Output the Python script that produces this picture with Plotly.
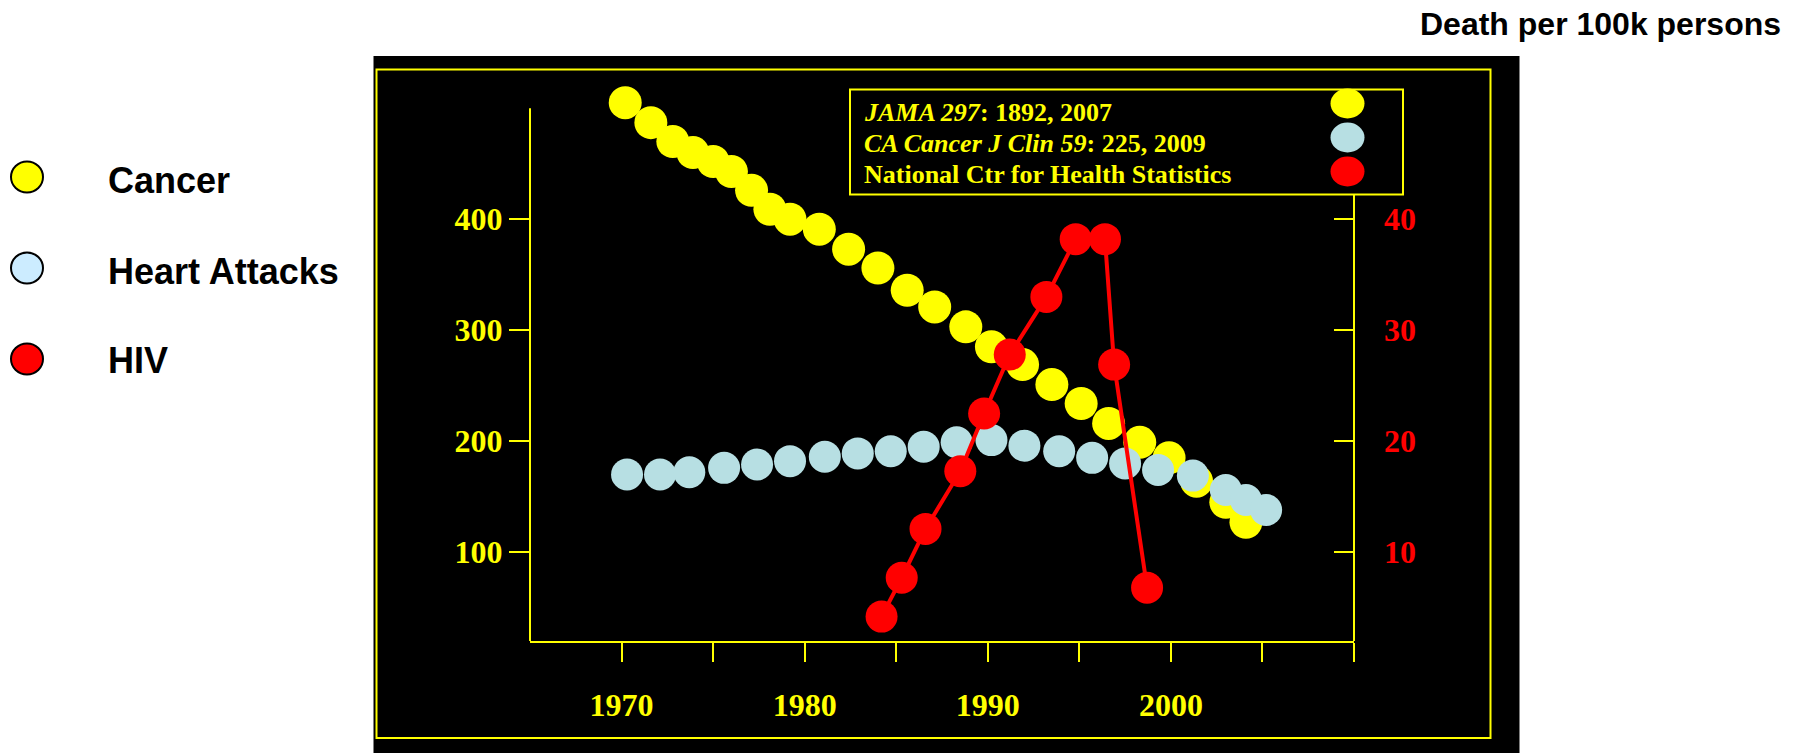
import plotly.graph_objects as go

# ---------------- data ----------------
cancer_years = [1970.2, 1971.6, 1972.8, 1973.9, 1975.0, 1976.0, 1977.1, 1978.1, 1979.2, 1980.8,
                1982.4, 1984.0, 1985.6, 1987.1, 1988.8, 1990.2, 1991.9, 1993.5, 1995.1, 1996.6,
                1998.3, 1999.9, 2001.4, 2003.0, 2004.1]
cancer_vals = [505, 487, 470, 460, 452, 443, 426, 409, 400, 391,
               373, 356, 336, 321, 303, 285, 269, 251, 234, 216,
               199, 185, 164, 145, 127]

heart_years = [1970.3, 1972.1, 1973.7, 1975.6, 1977.4, 1979.2, 1981.1, 1982.9, 1984.7, 1986.5,
               1988.3, 1990.2, 1992.0, 1993.9, 1995.7, 1997.5, 1999.3, 2001.2, 2003.0, 2004.1, 2005.2]
heart_vals = [170, 170, 172, 176, 179, 182, 186, 189, 191, 195,
              199, 201, 196, 191, 185, 180, 174, 169, 156, 147, 138]

hiv_years = [1984.2, 1985.3, 1986.6, 1988.5, 1989.8, 1991.2, 1993.2, 1994.8, 1996.4, 1996.9, 1998.7]
hiv_vals = [4.2, 7.7, 12.1, 17.3, 22.5, 27.8, 33.0, 38.2, 38.2, 26.9, 6.8]

x_tickvals = [1970, 1975, 1980, 1985, 1990, 1995, 2000, 2005, 2010]
x_ticktext = ["1970", "", "1980", "", "1990", "", "2000", "", ""]
y_left_ticks = [100, 200, 300, 400]
y_right_ticks = [10, 20, 30, 40]
y_left_axis_span = [20, 500]
y_right_axis_span = [2, 50]

source_lines = ["<i>JAMA 297</i>: 1892, 2007",
                "<i>CA Cancer J Clin 59</i>: 225, 2009",
                "National Ctr for Health Statistics"]
series_names = ["Cancer", "Heart Attacks", "HIV"]
page_title = "Death per 100k persons"

# ---------------- style ----------------
YELLOW = "#FFFF00"
LBLUE = "#B7DFE3"
RED = "#FF0000"
LEG_BLUE = "#CCECFF"
W, H = 1797, 753
L, R, T, B = 530, 1354, 86, 641
PW, PH = R - L, B - T


def px(x):
    return (x - L) / PW


def py(y):
    return (B - y) / PH


serif = "Liberation Serif"
sans = "Liberation Sans"

fig = go.Figure()
fig.add_trace(go.Scatter(x=cancer_years, y=cancer_vals, mode="markers", name="Cancer",
                         marker=dict(color=YELLOW, size=33, line=dict(width=0)),
                         cliponaxis=False, showlegend=False))
fig.add_trace(go.Scatter(x=heart_years, y=heart_vals, mode="markers", name="Heart Attacks",
                         marker=dict(color=LBLUE, size=32, line=dict(width=0)),
                         cliponaxis=False, showlegend=False))
fig.add_trace(go.Scatter(x=hiv_years, y=hiv_vals, mode="lines+markers", name="HIV", yaxis="y2",
                         line=dict(color=RED, width=4),
                         marker=dict(color=RED, size=32, line=dict(width=0)),
                         cliponaxis=False, showlegend=False))

shapes = []
# black panel
shapes.append(dict(type="rect", xref="paper", yref="paper", layer="below",
                   x0=px(373.5), x1=px(1519.5), y0=py(753), y1=py(56),
                   fillcolor="black", line=dict(width=0)))
# yellow frame
shapes.append(dict(type="rect", xref="paper", yref="paper", layer="below",
                   x0=px(376.5), x1=px(1490.5), y0=py(738), y1=py(69.5),
                   fillcolor="rgba(0,0,0,0)", line=dict(color=YELLOW, width=2)))
# vertical axis lines (end at 500 / 50)
shapes.append(dict(type="line", xref="paper", yref="y", layer="above",
                   x0=0, x1=0, y0=y_left_axis_span[0], y1=y_left_axis_span[1],
                   line=dict(color=YELLOW, width=2)))
shapes.append(dict(type="line", xref="paper", yref="y2", layer="above",
                   x0=1, x1=1, y0=y_right_axis_span[0], y1=y_right_axis_span[1],
                   line=dict(color=YELLOW, width=2)))
# source box
shapes.append(dict(type="rect", xref="paper", yref="paper", layer="above",
                   x0=px(850), x1=px(1403), y0=py(194.5), y1=py(89.5),
                   fillcolor="black", line=dict(color=YELLOW, width=2)))
# swatches in source box
for cy, col in zip([103.5, 137.5, 171.5], [YELLOW, LBLUE, RED]):
    shapes.append(dict(type="circle", xref="paper", yref="paper", layer="above",
                       x0=px(1347.5 - 17), x1=px(1347.5 + 17), y0=py(cy + 15), y1=py(cy - 15),
                       fillcolor=col, line=dict(width=0)))
# outer legend circles
for cy, col in zip([177, 268, 359], [YELLOW, LEG_BLUE, RED]):
    shapes.append(dict(type="circle", xref="paper", yref="paper", layer="above",
                       x0=px(27 - 16), x1=px(27 + 16), y0=py(cy + 15.5), y1=py(cy - 15.5),
                       fillcolor=col, line=dict(color="black", width=2)))

annotations = []
for cy, txt in zip([112.5, 143.5, 174], source_lines):
    annotations.append(dict(xref="paper", yref="paper", x=px(862), y=py(cy), text=txt,
                            showarrow=False, xanchor="left", yanchor="middle",
                            font=dict(family=serif, size=26, color=YELLOW, weight="bold")))
for cy, txt in zip([180, 271, 360], series_names):
    annotations.append(dict(xref="paper", yref="paper", x=px(106), y=py(cy), text=txt,
                            showarrow=False, xanchor="left", yanchor="middle",
                            font=dict(family=sans, size=36, color="black", weight="bold")))
annotations.append(dict(xref="paper", yref="paper", x=px(1783), y=py(24), text=page_title,
                        showarrow=False, xanchor="right", yanchor="middle",
                        font=dict(family=sans, size=32, color="black", weight="bold")))

tickfont_y = dict(family=serif, size=32, color=YELLOW, weight="bold")
fig.update_layout(
    width=W, height=H,
    margin=dict(l=L, r=W - R, t=T, b=H - B, pad=0),
    paper_bgcolor="white", plot_bgcolor="black",
    xaxis=dict(range=[1965, 2010], tickvals=x_tickvals, ticktext=x_ticktext,
               showgrid=False, zeroline=False, showline=True, linecolor=YELLOW, linewidth=2,
               ticks="outside", ticklen=19, tickwidth=2, tickcolor=YELLOW,
               ticklabelstandoff=16, tickfont=tickfont_y),
    yaxis=dict(range=[20, 520], tickvals=y_left_ticks, showgrid=False, zeroline=False,
               showline=False,
               ticks="outside", ticklen=20, tickwidth=2, tickcolor=YELLOW,
               ticklabelstandoff=0, tickfont=tickfont_y),
    yaxis2=dict(range=[2, 52], overlaying="y", side="right", tickvals=y_right_ticks,
                showgrid=False, zeroline=False, showline=False,
                ticks="inside", ticklen=20, tickwidth=2, tickcolor=YELLOW,
                ticklabelstandoff=29,
                tickfont=dict(family=serif, size=32, color=RED, weight="bold")),
    shapes=shapes, annotations=annotations, showlegend=False,
)

fig.write_html("out.html", config={"displayModeBar": False},
               post_script="document.body.style.margin='0';")
